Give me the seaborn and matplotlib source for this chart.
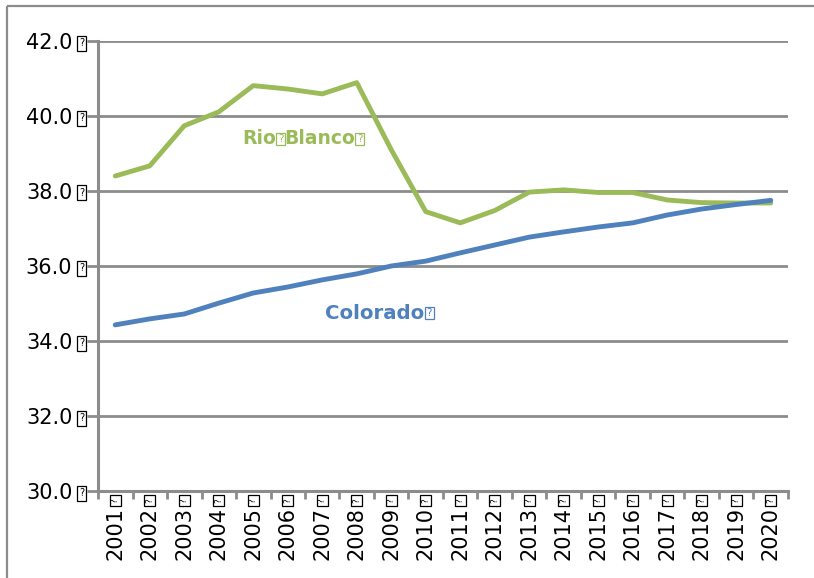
import matplotlib
matplotlib.use("Agg")
import matplotlib.pyplot as plt
from matplotlib.patches import Rectangle
from matplotlib.lines import Line2D
import seaborn as sns
import pandas as pd
import numpy as np

# Median age by year
years = [str(y) for y in range(2001, 2021)]
rio_blanco = [38.4, 38.67, 39.74, 40.11, 40.81, 40.72, 40.59, 40.89, 39.1, 37.45,
              37.15, 37.48, 37.97, 38.03, 37.96, 37.96, 37.76, 37.69, 37.68, 37.68]
colorado = [34.43, 34.59, 34.72, 35.01, 35.28, 35.44, 35.63, 35.79, 36.0, 36.13,
            36.35, 36.56, 36.77, 36.91, 37.04, 37.15, 37.36, 37.52, 37.64, 37.75]
y_ticks = [30.0, 32.0, 34.0, 36.0, 38.0, 40.0, 42.0]
series_names = ["Rio", "Blanco", "Colorado"]

W, H = 814, 578
sns.set_theme(style="white")
plt.rcParams["font.family"] = ["DejaVu Sans"]

df = pd.DataFrame({
    "idx": list(range(len(years))) * 2,
    "value": rio_blanco + colorado,
    "area": ["Rio Blanco"] * len(years) + ["Colorado"] * len(years),
})

fig = plt.figure(figsize=(W / 100, H / 100), dpi=100)
fig.patch.set_facecolor("white")

# outer chart frame: top and left edges
frame_c = "#8c8c8c"
fig.add_artist(Line2D([7 / W, 1.1], [1 - 6 / H, 1 - 6 / H], transform=fig.transFigure,
                      color=frame_c, linewidth=1.6, solid_capstyle="butt"))
fig.add_artist(Line2D([7 / W, 7 / W], [-0.1, 1 - 6 / H], transform=fig.transFigure,
                      color=frame_c, linewidth=1.6, solid_capstyle="butt"))

ax = fig.add_axes([98 / W, 1 - 491 / H, 690 / W, 450 / H])
grid_c = "#8c8c8c"
for y in y_ticks[1:]:
    ax.axhline(y, color=grid_c, linewidth=2.0, zorder=1)

green, blue = "#9bbb59", "#4f81bd"
palette = {"Rio Blanco": green, "Colorado": blue}
sns.lineplot(data=df, x="idx", y="value", hue="area", palette=palette,
             linewidth=3.5, legend=False, ax=ax, zorder=3,
             solid_capstyle="round", solid_joinstyle="round")

ax.set_xlim(-0.5, len(years) - 0.5)
ax.set_ylim(30.0, 42.0)
ax.set_xlabel("")
ax.set_ylabel("")

for side in ["top", "right"]:
    ax.spines[side].set_visible(False)
for side in ["left", "bottom"]:
    ax.spines[side].set_color(grid_c)
    ax.spines[side].set_linewidth(2.2)

ax.set_yticks(y_ticks)
ax.set_yticklabels([f"{v:.1f}" for v in y_ticks], fontsize=15, color="black")
ax.tick_params(axis="y", direction="out", length=8, width=2, color=grid_c,
               pad=10.5, left=True)

ax.set_xticks(range(len(years)))
ax.set_xticklabels(years, rotation=90, fontsize=15, va="top", color="black")
ax.set_xticks(np.arange(-0.5, len(years)), minor=True)
ax.tick_params(axis="x", which="major", length=0, pad=11.5, bottom=True)
ax.tick_params(axis="x", which="minor", direction="out", length=6, width=2,
               color=grid_c, bottom=True)


def qbox(cx, cy, w, h, color="black", rot=0, fs=7):
    """Small framed question mark centred on pixel (cx, cy), y measured from the top."""
    fig.add_artist(Rectangle(((cx - w / 2) / W, 1 - (cy + h / 2) / H), w / W, h / H,
                             transform=fig.transFigure, facecolor="white",
                             edgecolor=color, linewidth=0.9, zorder=5))
    fig.text(cx / W, 1 - cy / H, "?", color=color, fontsize=fs, rotation=rot,
             ha="center", va="center", zorder=6)


fig.canvas.draw()
renderer = fig.canvas.get_renderer()

# framed marks following the tick labels
for lab in ax.get_yticklabels():
    bb = lab.get_window_extent(renderer)
    cy = H - (bb.y0 + bb.y1) / 2
    qbox(bb.x1 + 9.5, cy, 9, 15)
for lab in ax.get_xticklabels():
    bb = lab.get_window_extent(renderer)
    cx = (bb.x0 + bb.x1) / 2
    qbox(cx, H - bb.y1 - 6.5, 11, 11, rot=90, fs=6.5)


def series_label(parts, x_data, y_data, color, fs=14, gap=-1):
    """Write label words left to right from a data anchor, each followed by a framed mark."""
    px, py = ax.transData.transform((x_data, y_data))
    for word in parts:
        t = fig.text(px / W, py / H, word, color=color, fontsize=fs,
                     fontweight="bold", ha="left", va="baseline", zorder=6)
        bb = t.get_window_extent(renderer)
        qbox(bb.x1 + 5, H - py - 5.5, 9, 12, color=color, fs=7.5)
        px = bb.x1 + 9.5 + gap


series_label(series_names[:2], 3.67, 39.25, green, fs=13.5)
series_label(series_names[2:], 6.08, 34.59, blue, fs=14.2)

fig.savefig("out.png", dpi=100)
